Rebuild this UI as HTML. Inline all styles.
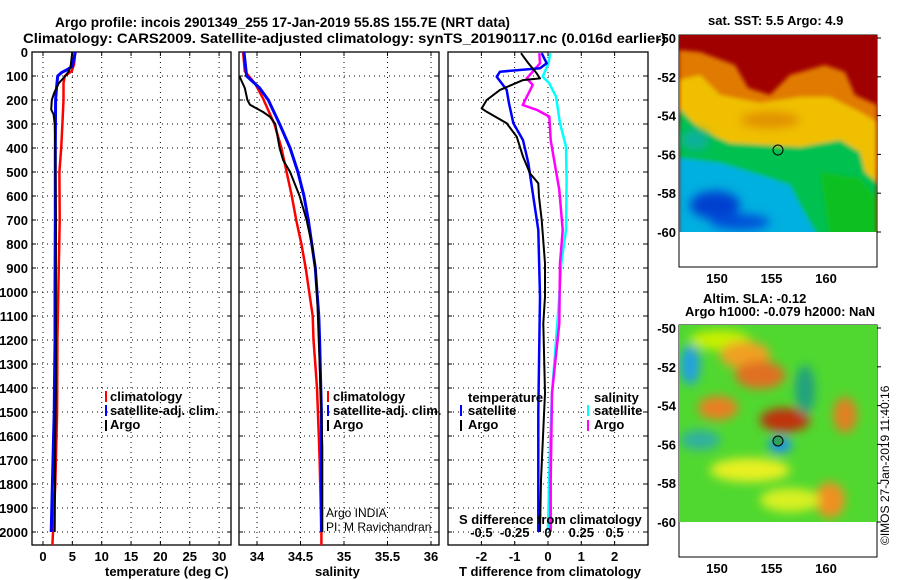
<!DOCTYPE html>
<html><head><meta charset="utf-8"><title>Argo profile</title>
<style>
html,body{margin:0;padding:0;background:#fff;}
svg{display:block;font-family:"Liberation Sans",Arial,sans-serif;}
.b{font-weight:bold;font-size:13px;}
.t{font-weight:bold;font-size:14px;}
</style></head><body>
<svg id="fig" width="900" height="580" viewBox="0 0 900 580" xmlns="http://www.w3.org/2000/svg">
<defs>
<filter id="blur" x="-50%" y="-50%" width="200%" height="200%"><feGaussianBlur stdDeviation="5"/></filter>
<filter id="sblur" x="-10%" y="-10%" width="120%" height="120%"><feGaussianBlur stdDeviation="2"/></filter>
<clipPath id="c1"><rect x="32" y="52" width="199" height="493"/></clipPath>
<clipPath id="c2"><rect x="239" y="52" width="200" height="493"/></clipPath>
<clipPath id="c3"><rect x="448" y="52" width="200" height="493"/></clipPath>
<clipPath id="m1"><rect x="679" y="35" width="198" height="197"/></clipPath>
<clipPath id="m2"><rect x="679" y="325" width="198" height="197"/></clipPath>
</defs>
<g id="grids"></g>
<g id="series"></g>
<g id="labels"></g>
<!-- legends -->
<g class="b">
<rect x="105" y="391" width="2" height="11" fill="#f00"/><text x="110" y="401">climatology</text>
<rect x="105" y="405" width="2" height="11" fill="#00f"/><text x="110" y="415">satellite-adj. clim.</text>
<rect x="105" y="420" width="2" height="11" fill="#000"/><text x="110" y="429">Argo</text>
</g>
<g class="b">
<rect x="327" y="391" width="2" height="11" fill="#f00"/><text x="333" y="401">climatology</text>
<rect x="327" y="405" width="2" height="11" fill="#00f"/><text x="333" y="415">satellite-adj. clim.</text>
<rect x="327" y="420" width="2" height="11" fill="#000"/><text x="333" y="429">Argo</text>
</g>
<g font-size="12">
<text x="326" y="517">Argo INDIA</text><text x="326" y="531">PI: M Ravichandran</text>
</g>
<g class="b">
<text x="468" y="402">temperature</text>
<rect x="460" y="405" width="2" height="11" fill="#00f"/><text x="468" y="415">satellite</text>
<rect x="460" y="420" width="2" height="11" fill="#000"/><text x="468" y="429">Argo</text>
<text x="594" y="402">salinity</text>
<rect x="587" y="405" width="2" height="11" fill="#0ff"/><text x="594" y="415">satellite</text>
<rect x="587" y="420" width="2" height="11" fill="#f0f"/><text x="594" y="429">Argo</text>
</g>
<text x="459" y="524" class="b">S difference from climatology</text>
<text x="105" y="576" class="b">temperature (deg C)</text>
<text x="315" y="576" class="b">salinity</text>
<text x="459" y="576" class="b">T difference from climatology</text>

<!-- SST map -->
<g>
<text x="708" y="25" class="b">sat. SST: 5.5 Argo: 4.9</text>
<rect x="679" y="35" width="198" height="232" fill="#fff" stroke="#000"/>
<g clip-path="url(#m1)">
<rect x="679" y="35" width="198" height="198" fill="#a00000"/>
<g filter="url(#sblur)">
<polygon points="679,50 700,52 735,65 748,88 770,95 790,75 825,65 845,72 855,95 877,105 877,240 679,240" fill="#e07a00"/>
<polygon points="679,80 700,75 720,95 760,103 800,97 830,97 860,112 877,122 877,240 679,240" fill="#f0c000"/>
<polygon points="679,108 700,130 730,143 800,147 840,140 860,152 865,172 877,182 877,240 679,240" fill="#00c050"/>
<polygon points="679,158 720,163 760,175 790,185 800,205 820,240 679,240" fill="#00b0e0"/>
<polygon points="820,172 860,178 877,198 877,240 830,240" fill="#10c020"/>
</g>
<g filter="url(#blur)">
<ellipse cx="715" cy="205" rx="25" ry="14" fill="#0040d0"/>
<ellipse cx="740" cy="222" rx="30" ry="8" fill="#0050d8"/>
<ellipse cx="770" cy="120" rx="30" ry="8" fill="#e09000"/>
<ellipse cx="695" cy="140" rx="14" ry="10" fill="#10b0a0"/>
</g></g>
<circle cx="778" cy="150" r="5" fill="none" stroke="#000"/>
</g>
<!-- SLA map -->
<g>
<text x="703" y="303" class="b">Altim. SLA: -0.12</text>
<text x="685" y="316" class="b">Argo h1000: -0.079 h2000: NaN</text>
<rect x="679" y="325" width="198" height="232" fill="#fff" stroke="#000"/>
<g clip-path="url(#m2)">
<rect x="679" y="325" width="198" height="198" fill="#50d830"/>
<g filter="url(#blur)">
<ellipse cx="720" cy="340" rx="30" ry="10" fill="#c8f000"/>
<ellipse cx="745" cy="355" rx="25" ry="14" fill="#f0a020"/>
<ellipse cx="760" cy="375" rx="25" ry="14" fill="#e07020"/>
<ellipse cx="690" cy="365" rx="10" ry="20" fill="#20a0e0"/>
<ellipse cx="718" cy="408" rx="20" ry="12" fill="#e88020"/>
<ellipse cx="785" cy="420" rx="25" ry="12" fill="#c03010"/>
<ellipse cx="845" cy="415" rx="12" ry="18" fill="#e08020"/>
<ellipse cx="805" cy="390" rx="10" ry="25" fill="#20a080"/>
<ellipse cx="780" cy="445" rx="12" ry="8" fill="#2090f0"/>
<ellipse cx="830" cy="500" rx="15" ry="18" fill="#f09020"/>
<ellipse cx="750" cy="470" rx="40" ry="12" fill="#e8f020"/>
<ellipse cx="700" cy="440" rx="20" ry="10" fill="#30b0a0"/>
<ellipse cx="790" cy="500" rx="30" ry="12" fill="#d8f020"/>
</g></g>
<circle cx="778" cy="441" r="5" fill="#30a060" stroke="#000"/>
</g>
<text transform="translate(889,545) rotate(-90)" font-size="12">©IMOS 27-Jan-2019 11:40:16</text>
<text x="55" y="27" class="t" textLength="455" lengthAdjust="spacingAndGlyphs">Argo profile: incois 2901349_255 17-Jan-2019 55.8S 155.7E (NRT data)</text>
<text x="23" y="43" class="t" textLength="643" lengthAdjust="spacingAndGlyphs">Climatology: CARS2009. Satellite-adjusted climatology: synTS_20190117.nc (0.016d earlier)</text>
<script>
// ---- data ----
const depthTicks=[0,100,200,300,400,500,600,700,800,900,1000,1100,1200,1300,1400,1500,1600,1700,1800,1900,2000];
const tempTicks=[0,5,10,15,20,25,30];
const salTicks=[34,34.5,35,35.5,36];
const salTickLabels=["34","34.5","35","35.5","36"];
const tdiffTicks=[-2,-1,0,1,2];
const sdiffTicks=[-0.5,-0.25,0,0.25,0.5];
const sdiffTickLabels=["-0.5","-0.25","0","0.25","0.5"];
const latTicks=[-50,-52,-54,-56,-58,-60];
const lonTicks=[150,155,160];

const tClimDepth=[0,50,80,100,130,200,300,400,500,700,1000,1200,1500,1700,1800,2000,2055];
const tClimVal=[5.5,5.3,4.9,3.7,3.5,3.5,3.3,3.1,2.8,2.85,2.6,2.45,2.4,2.2,2.1,1.7,1.6];
const tSatDepth=[0,60,75,85,100,150,200,400,700,1000,1200,1500,1700,2000];
const tSatVal=[5.5,5.0,4.0,3.2,2.5,2.3,2.15,2.1,2.1,2.05,2.05,1.9,1.7,1.4];
const tArgoDepth=[0,60,80,100,130,170,200,240,260,300,400,700,1000,1400,1600,2000];
const tArgoVal=[5.0,4.7,4.4,3.8,2.7,1.9,1.5,1.4,1.8,2.0,2.1,2.2,2.2,2.2,2.1,2.0];

const sClimDepth=[0,80,133,194,300,400,500,600,700,800,900,1000,1100,1200,1300,1400,1500,1600,1700,2000,2055];
const sClimVal=[33.84,33.86,33.98,34.07,34.2,34.28,34.34,34.4,34.45,34.51,34.56,34.6,34.64,34.65,34.67,34.69,34.7,34.71,34.72,34.74,34.74];
const sSatDepth=[0,100,150,200,300,400,500,600,700,800,900,1000,1100,1200,1500,2000];
const sSatVal=[33.85,33.88,34.03,34.13,34.26,34.38,34.47,34.54,34.59,34.63,34.67,34.69,34.71,34.72,34.74,34.74];
const sArgoDepth=[103,150,200,220,250,270,300,400,450,500,600,700,800,900,1000,1500,1650,2000];
const sArgoVal=[33.8,33.86,33.89,33.92,34.07,34.15,34.21,34.26,34.3,34.38,34.49,34.57,34.63,34.67,34.69,34.74,34.75,34.75];

const dtArgoDepth=[5,47,89,110,117,158,200,235,249,297,353,436,506,547,603,700,881,1019,1131,1421,1575,1783,2000];
const dtArgoVal=[-0.81,-0.59,-0.34,-0.24,-0.75,-1.44,-1.84,-1.99,-1.84,-1.24,-0.94,-0.75,-0.54,-0.29,-0.27,-0.19,-0.09,-0.09,-0.14,-0.09,-0.14,-0.21,-0.24];
const dtSatDepth=[5,47,68,82,103,158,214,297,367,464,603,742,1019,1500,2000];
const dtSatVal=[-0.19,-0.04,-0.24,-1.44,-1.54,-1.24,-1.17,-1.04,-0.75,-0.59,-0.44,-0.29,-0.24,-0.29,-0.29];
const dsSatDepth=[5,47,103,131,186,297,394,533,742,881,1019,1131,1421,1644,1992];
const dsSatVal=[0.017,0.003,-0.04,0.01,0.06,0.09,0.135,0.14,0.135,0.10,0.085,0.07,0.03,0.015,0];
const dsArgoDepth=[5,47,82,110,137,221,242,269,367,464,575,742,881,1131,1421,1783,2000];
const dsArgoVal=[-0.065,-0.06,-0.115,-0.16,-0.115,-0.19,-0.08,0.01,0.02,0.05,0.085,0.11,0.09,0.085,0.03,0.02,0.02];

// ---- axes ----
const NS="http://www.w3.org/2000/svg";
const yD=d=>52+d*0.24;
const xT=v=>43+v*5.87;
const xS=v=>257+(v-34)*87;
const xDT=v=>548+v*33.3;
const xDS=v=>548+v*133.2;
const panels=[{x0:32,x1:231,ticks:tempTicks,fx:xT,lab:tempTicks.map(String),n:'temperature'},
{x0:239,x1:439,ticks:salTicks,fx:xS,lab:salTickLabels,n:'salinity'},
{x0:448,x1:648,ticks:tdiffTicks,fx:xDT,lab:tdiffTicks.map(String),n:'t-difference'}];
function mk(tag,attrs,parent){const e=document.createElementNS(NS,tag);for(const k in attrs)e.setAttribute(k,attrs[k]);parent.appendChild(e);return e;}
const G=document.getElementById('grids'),S=document.getElementById('series'),L=document.getElementById('labels');
panels.forEach(p=>{
 depthTicks.forEach(d=>{const l=mk('line',{x1:p.x0,x2:p.x1,y1:yD(d),y2:yD(d),stroke:'#000','stroke-dasharray':'1,4'},G);
  
  
  mk('line',{x1:p.x0,x2:p.x0+4,y1:yD(d),y2:yD(d),stroke:'#000'},G);mk('line',{x1:p.x1-4,x2:p.x1,y1:yD(d),y2:yD(d),stroke:'#000'},G);});
 p.ticks.forEach((v,i)=>{const x=p.fx(v);const l=mk('line',{x1:x,x2:x,y1:52,y2:545,stroke:'#000','stroke-dasharray':'1,4'},G);
  
  
  mk('line',{x1:x,x2:x,y1:52,y2:56,stroke:'#000'},G);mk('line',{x1:x,x2:x,y1:541,y2:545,stroke:'#000'},G);
  const t=mk('text',{x:x,y:561,'text-anchor':'middle','class':'b'},L);t.textContent=p.lab[i];
  
  });
 const r=mk('rect',{x:p.x0,y:52,width:p.x1-p.x0,height:493,fill:'none',stroke:'#000','stroke-width':1.3},G);
 
 
});
sdiffTicks.forEach((v,i)=>{const t=mk('text',{x:xDS(v),y:537,'text-anchor':'middle','class':'b'},L);t.textContent=sdiffTickLabels[i];
 
 });
depthTicks.forEach(d=>{const t=mk('text',{x:28,y:yD(d)+5,'text-anchor':'end','class':'b'},L);t.textContent=String(d);
 
 });
// map axes
const yLat1=v=>38+(-50-v)*19.4, yLat2=v=>328+(-50-v)*19.4, xLon=v=>717+(v-150)*10.9;
latTicks.forEach(v=>{[yLat1,yLat2].forEach((f,k)=>{const t=mk('text',{x:676,y:f(v)+5,'text-anchor':'end','class':'b'},L);t.textContent=String(v);
 
 
 mk('line',{x1:877,x2:881,y1:f(v),y2:f(v),stroke:'#000'},L);});});
lonTicks.forEach(v=>{[283,573].forEach(y=>{const t=mk('text',{x:xLon(v),y:y,'text-anchor':'middle','class':'b'},L);t.textContent=String(v);
 
 
 mk('line',{x1:xLon(v),x2:xLon(v),y1:y-16,y2:y-20,stroke:'#000'},L);});});
// series
function line(dep,val,fx,clip,color,w,name){
 const pts=dep.map((d,i)=>fx(val[i]).toFixed(1)+','+yD(d).toFixed(1)).join(' ');
 const e=mk('polyline',{points:pts,fill:'none',stroke:color,'stroke-width':w,'clip-path':'url(#'+clip+')','stroke-linejoin':'round'},S);
 
 
}
line(tClimDepth,tClimVal,xT,'c1','#f00',2.5,'temperature-climatology-line');
line(tSatDepth,tSatVal,xT,'c1','#00f',3,'temperature-satellite-line');
line(tArgoDepth,tArgoVal,xT,'c1','#000',2,'temperature-argo-line');
line(sClimDepth,sClimVal,xS,'c2','#f00',2.5,'salinity-climatology-line');
line(sSatDepth,sSatVal,xS,'c2','#00f',3,'salinity-satellite-line');
line(sArgoDepth,sArgoVal,xS,'c2','#000',2,'salinity-argo-line');
line(dsSatDepth,dsSatVal,xDS,'c3','#0ff',2.5,'s-diff-satellite-line');
line(dsArgoDepth,dsArgoVal,xDS,'c3','#f0f',2.5,'s-diff-argo-line');
line(dtSatDepth,dtSatVal,xDT,'c3','#00f',2.5,'t-diff-satellite-line');
line(dtArgoDepth,dtArgoVal,xDT,'c3','#000',2,'t-diff-argo-line');
</script>
</svg>
</body></html>
